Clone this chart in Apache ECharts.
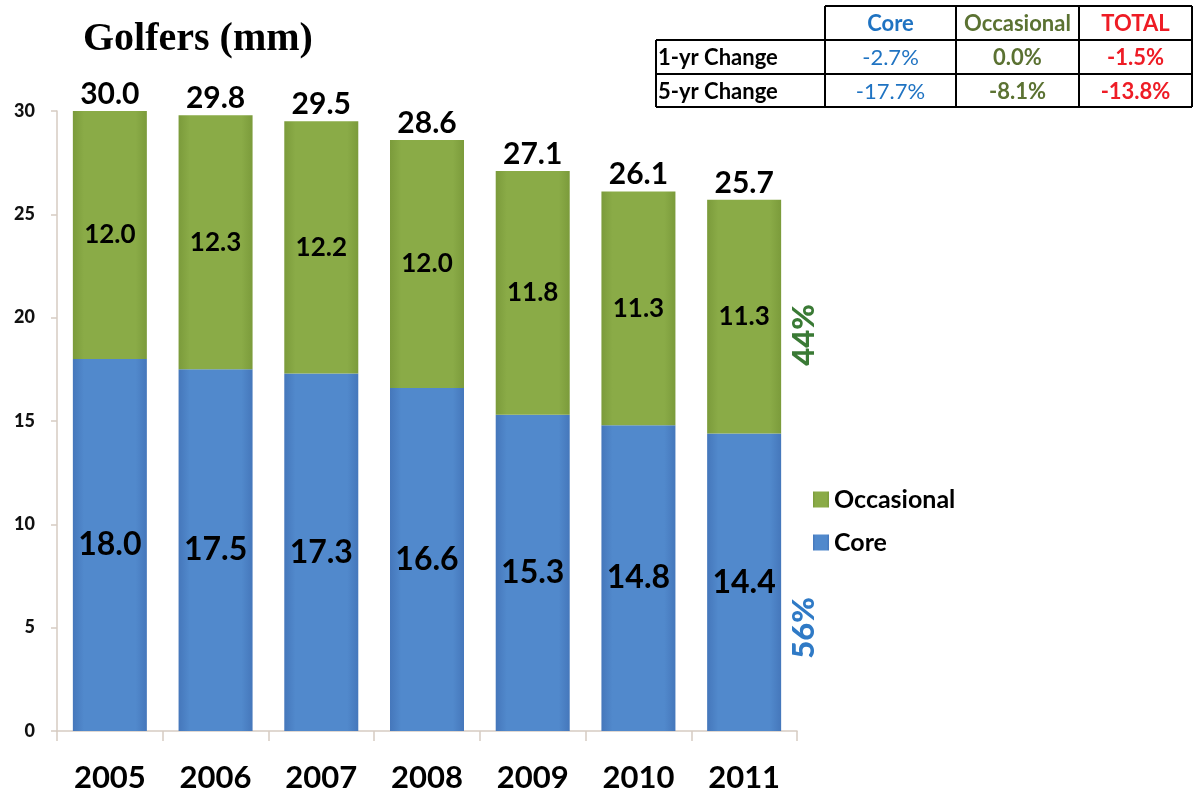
<!DOCTYPE html>
<html>
<head>
<meta charset="utf-8">
<script src="https://cdn.jsdelivr.net/npm/echarts@6/dist/echarts.min.js"></script>
<style>
  html, body { margin: 0; padding: 0; background: #fff; }
  #chart { width: 1194px; height: 793px; }
</style>
</head>
<body>
<div id="chart"></div>
<script>
const years = ['2005', '2006', '2007', '2008', '2009', '2010', '2011']
const core = [18.0, 17.5, 17.3, 16.6, 15.3, 14.8, 14.4]
const occasional = [12.0, 12.3, 12.2, 12.0, 11.8, 11.3, 11.3]
const totals = [30.0, 29.8, 29.5, 28.6, 27.1, 26.1, 25.7]

const tableHeaders = ['Core', 'Occasional', 'TOTAL']
const rowLabels = ['1-yr Change', '5-yr Change']
const oneYearChange = ['-2.7%', '0.0%', '-1.5%']
const fiveYearChange = ['-17.7%', '-8.1%', '-13.8%']
const shareLabels = ['44%', '56%']

const font = 'Lato, "Open Sans", sans-serif'
const blueText = '#1f73c2'
const greenText = '#5b7232'
const redText = '#ee1c25'
const colColors = [blueText, greenText, redText]

const greenFill = new echarts.graphic.LinearGradient(0, 0, 1, 0, [
  { offset: 0, color: '#7b9b3b' },
  { offset: 0.15, color: '#8aab47' },
  { offset: 0.85, color: '#8aab47' },
  { offset: 1, color: '#7b9b3b' }
])
const blueFill = new echarts.graphic.LinearGradient(0, 0, 1, 0, [
  { offset: 0, color: '#4577bb' },
  { offset: 0.15, color: '#5189cc' },
  { offset: 0.85, color: '#5189cc' },
  { offset: 1, color: '#4577bb' }
])

// table of changes, top right
const colX = [656, 825, 956, 1079, 1192]
const rowY = [6, 40, 74, 107]
const tableGraphics = []
const line = (x1, y1, x2, y2) => ({
  type: 'line',
  shape: { x1, y1, x2, y2 },
  style: { stroke: '#000', lineWidth: 2 }
})
tableGraphics.push(line(colX[1], rowY[0], colX[4], rowY[0]))
tableGraphics.push(line(colX[0], rowY[1], colX[4], rowY[1]))
tableGraphics.push(line(colX[0], rowY[2], colX[4], rowY[2]))
tableGraphics.push(line(colX[0], rowY[3], colX[4], rowY[3]))
tableGraphics.push(line(colX[0], rowY[1], colX[0], rowY[3]))
for (let c = 1; c < colX.length; c++) {
  tableGraphics.push(line(colX[c], rowY[0], colX[c], rowY[3]))
}
const cellText = (text, x, y, color, weight, align) => ({
  type: 'text',
  x, y,
  style: {
    text, fill: color, font: `${weight} 22px ${font}`,
    align: align || 'center', verticalAlign: 'middle'
  }
})
tableHeaders.forEach((h, i) => {
  tableGraphics.push(cellText(h, (colX[i + 1] + colX[i + 2]) / 2, (rowY[0] + rowY[1]) / 2 + 1, colColors[i], 'bold'))
})
const rows = [oneYearChange, fiveYearChange]
rowLabels.forEach((lbl, r) => {
  const cy = (rowY[r + 1] + rowY[r + 2]) / 2 + 1
  tableGraphics.push(cellText(lbl, colX[0] + 2, cy, '#000', 'bold', 'left'))
  rows[r].forEach((v, i) => {
    tableGraphics.push(cellText(v, (colX[i + 1] + colX[i + 2]) / 2, cy, colColors[i], i === 0 ? 'normal' : 'bold'))
  })
})

const chart = echarts.init(document.getElementById('chart'))

const option = {
  animation: false,
  backgroundColor: '#fff',
  title: {
    text: 'Golfers (mm)',
    left: 78,
    top: 15,
    textStyle: {
      fontFamily: '"Liberation Serif", "DejaVu Serif", serif',
      fontWeight: 'bold',
      fontSize: 40,
      color: '#000'
    }
  },
  legend: {
    orient: 'vertical',
    left: 808,
    top: 482,
    itemWidth: 16,
    itemHeight: 16,
    itemGap: 18,
    icon: 'rect',
    data: ['Occasional', 'Core'],
    textStyle: { fontFamily: font, fontWeight: 'bold', fontSize: 25, color: '#000' }
  },
  grid: { left: 57, right: 397, top: 111, bottom: 61, containLabel: false },
  xAxis: {
    type: 'category',
    data: years,
    axisLine: { lineStyle: { color: '#d6cbc2', width: 1.5 } },
    axisTick: { show: true, length: 10, lineStyle: { color: '#d6cbc2', width: 1.5 } },
    axisLabel: {
      margin: 31,
      fontFamily: font,
      fontWeight: 'bold',
      fontSize: 31,
      color: '#000'
    }
  },
  yAxis: {
    type: 'value',
    min: 0,
    max: 30,
    interval: 5,
    splitLine: { show: false },
    axisLine: { show: true, lineStyle: { color: '#d6cbc2', width: 1.5 } },
    axisTick: { show: true, length: 6, lineStyle: { color: '#d6cbc2', width: 1.5 } },
    axisLabel: {
      margin: 22,
      fontFamily: font,
      fontWeight: 900,
      fontSize: 18,
      color: '#111'
    }
  },
  series: [
    {
      name: 'Core',
      type: 'bar',
      stack: 'golfers',
      barWidth: 74,
      data: core,
      itemStyle: { color: blueFill },
      label: {
        show: true,
        position: 'inside',
        formatter: p => p.value.toFixed(1),
        fontFamily: font,
        fontWeight: 'bold',
        fontSize: 32,
        color: '#000'
      }
    },
    {
      name: 'Occasional',
      type: 'bar',
      stack: 'golfers',
      barWidth: 74,
      data: occasional,
      itemStyle: { color: greenFill },
      label: {
        show: true,
        position: 'inside',
        formatter: p => p.value.toFixed(1),
        fontFamily: font,
        fontWeight: 'bold',
        fontSize: 26,
        color: '#000'
      }
    },
    {
      name: 'Total',
      type: 'scatter',
      data: totals,
      symbolSize: 0,
      silent: true,
      itemStyle: { opacity: 1 },
      label: {
        show: true,
        position: 'top',
        distance: 2,
        formatter: p => p.value.toFixed(1),
        fontFamily: font,
        fontWeight: 'bold',
        fontSize: 30,
        color: '#000'
      }
    }
  ],
  graphic: [
    {
      type: 'text',
      x: 804,
      y: 335,
      rotation: Math.PI / 2,
      style: {
        text: shareLabels[0], fill: '#3a7a35',
        font: `900 31px ${font}`, align: 'center', verticalAlign: 'middle'
      }
    },
    {
      type: 'text',
      x: 804,
      y: 628,
      rotation: Math.PI / 2,
      style: {
        text: shareLabels[1], fill: '#2f7ac6',
        font: `900 31px ${font}`, align: 'center', verticalAlign: 'middle'
      }
    },
    ...tableGraphics
  ]
}

chart.setOption(option)
</script>
</body>
</html>
